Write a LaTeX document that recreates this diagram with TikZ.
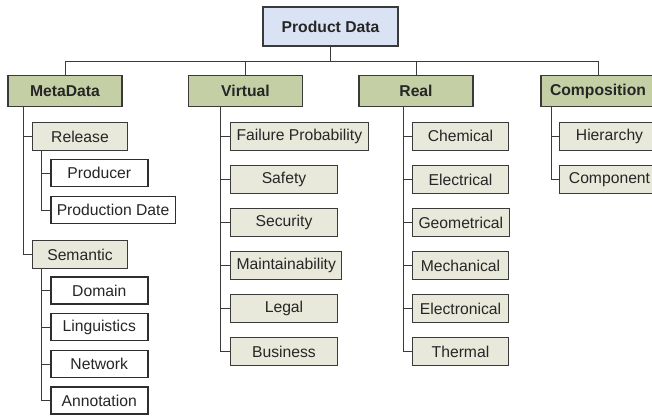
\documentclass[tikz,border=0pt]{standalone}
\usepackage{fontspec}
\setmainfont{Liberation Sans}
\usetikzlibrary{calc}

\definecolor{wurzelblau}{RGB}{218,227,243}
\definecolor{katgruen}{RGB}{196,207,165}
\definecolor{untergruen}{RGB}{232,233,218}
\definecolor{randgrau}{RGB}{58,58,58}

\begin{document}
\begin{tikzpicture}[x=1pt, y=-1pt,
  every node/.style={font=\fontsize{15.7}{18}\selectfont, inner sep=0pt, text=black!85},
  wurzel/.style={draw=randgrau, line width=1.6pt, fill=wurzelblau,
    minimum width=135pt, minimum height=39pt, font=\fontsize{15.7}{18}\selectfont\bfseries},
  kategorie/.style={draw=randgrau, line width=1.6pt, fill=katgruen,
    minimum width=114pt, minimum height=31pt, font=\fontsize{15.7}{18}\selectfont\bfseries},
  unter/.style={draw=randgrau, line width=1pt, fill=untergruen,
    minimum height=28pt, inner xsep=6pt, anchor=west},
  blatt/.style={draw=randgrau!80!black, line width=1.5pt, fill=white,
    minimum height=27pt, inner xsep=6pt, anchor=west},
  linie/.style={draw=randgrau, line width=1pt}]

  \useasboundingbox (0,0) rectangle (652,416);

  %--- Wurzel und Sammelschiene
  \node[wurzel] (root) at (330.5,26.5) {Product Data};
  \coordinate (bus) at (0,61);

  %--- Kategorien
  \node[kategorie] (meta) at (65,91)    {MetaData};
  \node[kategorie] (virt) at (245.5,91) {Virtual};
  \node[kategorie] (real) at (416,91)   {Real};
  \node[kategorie] (comp) at (598,91)   {Composition};

  %--- MetaData
  \node[unter, minimum width=95pt] (release)  at (32,136.5) {Release};
  \node[blatt, minimum width=97pt] (producer) at (50,173)   {Producer};
  \node[blatt, minimum width=97pt] (proddate) at (50,210)   {Production Date};
  \node[unter, minimum width=95pt] (semantic) at (32,254.5) {Semantic};
  \node[blatt, minimum width=97pt] (domain)   at (50,290.5) {Domain};
  \node[blatt, minimum width=97pt] (lingu)    at (50,327)   {Linguistics};
  \node[blatt, minimum width=97pt] (network)  at (50,364)   {Network};
  \node[blatt, minimum width=97pt] (annot)    at (50,400.5) {Annotation};

  %--- Virtual
  \node[unter, minimum width=107pt] (failure)  at (230,136)   {Failure Probability};
  \node[unter, minimum width=107pt] (safety)   at (230,179.5) {Safety};
  \node[unter, minimum width=107pt] (security) at (230,222.5) {Security};
  \node[unter, minimum width=107pt] (maint)    at (230,265.5) {Maintainability};
  \node[unter, minimum width=107pt] (legal)    at (230,308.5) {Legal};
  \node[unter, minimum width=107pt] (business) at (230,351.5) {Business};

  %--- Real
  \node[unter, minimum width=96pt] (chemical)   at (412,136)   {Chemical};
  \node[unter, minimum width=96pt] (electrical) at (412,179.5) {Electrical};
  \node[unter, minimum width=96pt] (geometric)  at (412,222.5) {Geometrical};
  \node[unter, minimum width=96pt] (mechanic)   at (412,265.5) {Mechanical};
  \node[unter, minimum width=96pt] (electronic) at (412,308.5) {Electronical};
  \node[unter, minimum width=96pt] (thermal)    at (412,351.5) {Thermal};

  %--- Composition
  \node[unter, minimum width=100pt] (hierarchy) at (559,136)   {Hierarchy};
  \node[unter, minimum width=100pt] (component) at (559,179.5) {Component};

  %--- Verbindungen oben
  \draw[linie] (root.south) -- (root.south |- bus);
  \draw[linie] (meta.north) -- (meta.north |- bus) -- (comp.north |- bus) -- (comp.north);
  \draw[linie] (virt.north) -- (virt.north |- bus);
  \draw[linie] (real.north) -- (real.north |- bus);

  %--- Stämme (x-Lage)
  \coordinate (tM)  at (23,0);
  \coordinate (tMR) at (41,0);
  \coordinate (tV)  at (220,0);
  \coordinate (tR)  at (403,0);
  \coordinate (tC)  at (551,0);

  % MetaData-Zweige
  \draw[linie] (tM |- meta.south) |- (semantic.west);
  \draw[linie] (tM |- release.west) -- (release.west);
  \draw[linie] (tMR |- release.south) |- (proddate.west);
  \draw[linie] (tMR |- producer.west) -- (producer.west);
  \draw[linie] (tMR |- semantic.south) |- (annot.west);
  \draw[linie] (tMR |- domain.west) -- (domain.west);
  \draw[linie] (tMR |- lingu.west) -- (lingu.west);
  \draw[linie] (tMR |- network.west) -- (network.west);

  % Virtual-Zweige
  \draw[linie] (tV |- virt.south) |- (business.west);
  \draw[linie] (tV |- failure.west) -- (failure.west);
  \draw[linie] (tV |- safety.west) -- (safety.west);
  \draw[linie] (tV |- security.west) -- (security.west);
  \draw[linie] (tV |- maint.west) -- (maint.west);
  \draw[linie] (tV |- legal.west) -- (legal.west);

  % Real-Zweige
  \draw[linie] (tR |- real.south) |- (thermal.west);
  \draw[linie] (tR |- chemical.west) -- (chemical.west);
  \draw[linie] (tR |- electrical.west) -- (electrical.west);
  \draw[linie] (tR |- geometric.west) -- (geometric.west);
  \draw[linie] (tR |- mechanic.west) -- (mechanic.west);
  \draw[linie] (tR |- electronic.west) -- (electronic.west);

  % Composition-Zweige
  \draw[linie] (tC |- comp.south) |- (component.west);
  \draw[linie] (tC |- hierarchy.west) -- (hierarchy.west);
\end{tikzpicture}
\end{document}
